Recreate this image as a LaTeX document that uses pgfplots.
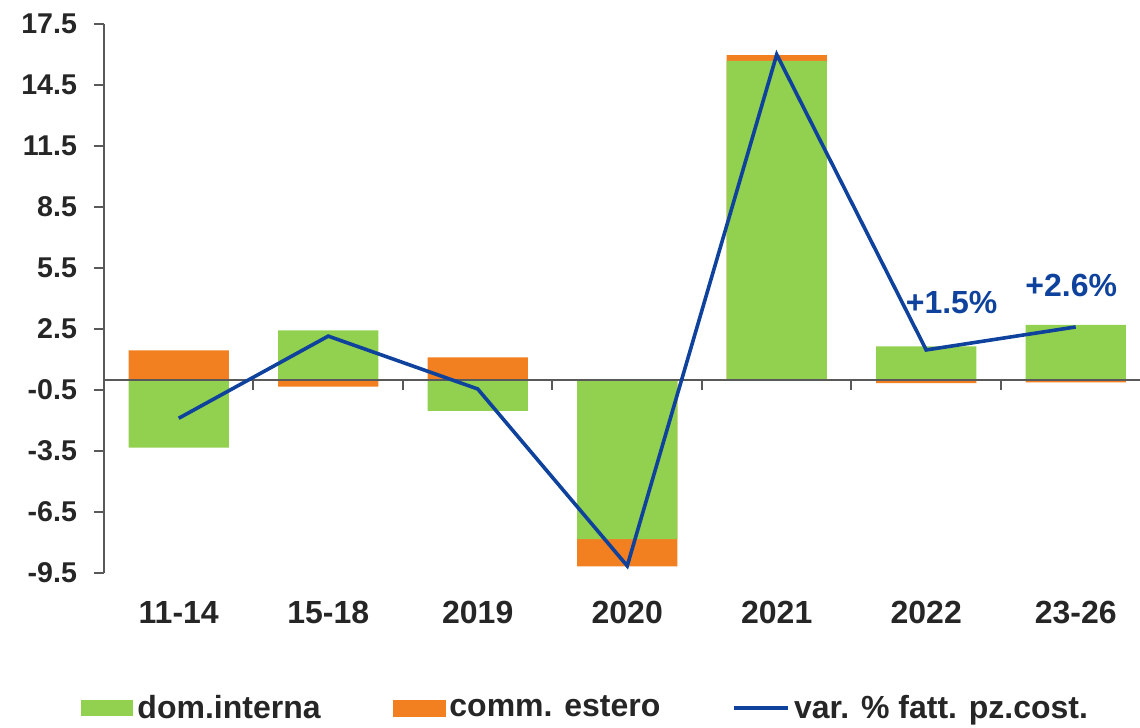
\documentclass[border=0pt]{standalone}
\usepackage{fontspec}
\setmainfont{Liberation Sans}
\usepackage{pgfplots}
\pgfplotsset{compat=1.18}
\usetikzlibrary{calc}
\definecolor{dgreen}{RGB}{146,208,80}
\definecolor{dorange}{RGB}{242,128,32}
\definecolor{dblue}{RGB}{14,66,156}
\definecolor{txt}{RGB}{38,38,38}
\definecolor{axc}{RGB}{89,89,89}
\begin{document}
\begin{tikzpicture}
\begin{axis}[
  scale only axis, width=518pt, height=274.5pt,
  xmin=-0.5, xmax=6.43, ymin=-9.5, ymax=17.5,
  axis y line*=left, axis x line*=bottom,
  x axis line style={draw=none},
  y axis line style={axc, line width=1pt, -},
  xtick={0,1,2,3,4,5,6},
  xticklabels={11-14,15-18,2019,2020,2021,2022,23-26},
  major x tick style={draw=none},
  ytick={-9.5,-6.5,-3.5,-0.5,2.5,5.5,8.5,11.5,14.5,17.5},
  yticklabels={-9.5,-6.5,-3.5,-0.5,2.5,5.5,8.5,11.5,14.5,17.5},
  tick align=outside, major tick length=5pt,
  y tick style={axc, line width=1pt},
  yticklabel style={font=\bfseries\fontsize{14.3pt}{16pt}\selectfont, text=txt, xshift=-5pt},
  xticklabel style={font=\bfseries\fontsize{16pt}{18pt}\selectfont, text=txt, yshift=-5.5pt},
  legend columns=3,
  legend style={draw=none, fill=none, at={(0.466,-0.246)}, anchor=center,
    font=\bfseries\fontsize{16pt}{18pt}\selectfont, text=txt,
    /tikz/every even column/.append style={column sep=34pt}},
  legend cell align=left,
]
\addplot[ybar, bar width=0.67, bar shift=0pt, fill=dorange, draw=none, forget plot]
  coordinates {(0,1.45) (1,-0.33) (2,1.10) (3,-9.18) (4,15.97) (5,-0.16) (6,-0.13)};
\addplot[ybar, bar width=0.67, bar shift=0pt, fill=dgreen, draw=none,
  legend image code/.code={\fill[dgreen] (0pt,-4pt) rectangle (26pt,4pt);}]
  coordinates {(0,-3.34) (1,2.43) (2,-1.53) (3,-7.84) (4,15.69) (5,1.64) (6,2.70)};
\addlegendentry{dom.interna}
\addlegendimage{legend image code/.code={\fill[dorange] (0pt,-4pt) rectangle (26pt,4pt);}}
\addlegendentry{comm. estero}
\addplot[axc, line width=1pt, forget plot] coordinates {(-0.5,0) (6.43,0)};
\pgfplotsinvokeforeach{0.5,1.5,2.5,3.5,4.5,5.5}{
  \draw[axc, line width=1pt] (axis cs:#1,0) -- ++(0pt,-5pt);
}
\addplot[dblue, line width=1.8pt, mark=none,
  legend image code/.code={\draw[dblue, line width=1.8pt] (0pt,0pt) -- (27pt,0pt);}]
  coordinates {(0,-1.89) (1,2.15) (2,-0.45) (3,-9.15) (4,16.0) (5,1.47) (6,2.6)};
\addlegendentry{var. \% fatt. pz.cost.}
\node[text=dblue, font=\bfseries\fontsize{16pt}{18pt}\selectfont] at (axis cs:5.17,3.79) {+1.5\%};
\node[text=dblue, font=\bfseries\fontsize{16pt}{18pt}\selectfont] at (axis cs:5.97,4.62) {+2.6\%};
\end{axis}
\pgfresetboundingbox
\path[use as bounding box] ($(current axis.south west)+(-52pt,-77.5pt)$) rectangle ($(current axis.north east)+(0pt,12pt)$);
\end{tikzpicture}
\end{document}
